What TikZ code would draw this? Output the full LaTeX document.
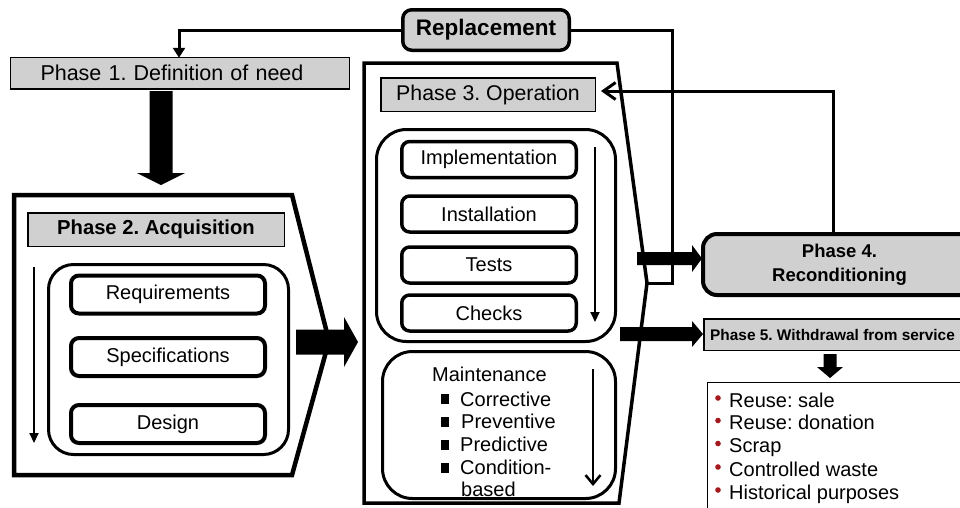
\documentclass[tikz,border=0pt]{standalone}
\usepackage{fontspec}
\setmainfont{Liberation Sans}
\usetikzlibrary{arrows.meta}
\definecolor{boxgray}{RGB}{208,208,208}
\definecolor{bulletred}{RGB}{165,25,30}
\frenchspacing
\begin{document}
\begin{tikzpicture}[x=1pt,y=-1pt,
  hdr/.style={draw, line width=1.5pt, fill=boxgray, inner sep=0pt},
  item2/.style={draw, line width=4pt, rounded corners=8pt, minimum width=194pt, minimum height=38pt, inner sep=0pt, font=\fontsize{20}{24}\selectfont},
  item3/.style={draw, line width=3.5pt, rounded corners=8pt, minimum width=174.5pt, minimum height=36pt, inner sep=0pt, font=\fontsize{20}{24}\selectfont},
  panel/.style={draw, line width=3pt, rounded corners=#1},
  conn/.style={line width=3pt, line join=miter},
  thinarrow/.style={line width=2pt, -{Triangle[length=10pt,width=9pt]}},
  txt/.style={anchor=base west, inner sep=0pt, font=\fontsize{20}{24}\selectfont}
]
\clip (0,0) rectangle (960,507);

% ---------- Phase 2 ----------
\coordinate (p2tip) at (329,341);
\draw[line width=4.5pt, line join=miter] (14,195) -- (292,195) -- (p2tip) -- (292,475) -- (14,475) -- cycle;
\node[hdr, minimum width=256.5pt, minimum height=33.5pt, font=\bfseries\fontsize{20.2}{24}\selectfont] (p2h) at (156,229.5) {Phase 2. Acquisition};
\draw[panel=25pt] (48.5,264.5) rectangle (288.5,454.5);
\node[item2] (req) at (168,294.5) {Requirements};
\node[item2] (spec) at (168,357) {Specifications};
\node[item2] (des) at (168,424) {Design};
\draw[thinarrow] (34,267) -- (34,443);

% ---------- Phase 3 ----------
\coordinate (p3tip) at (647,283);
\draw[line width=3.5pt, line join=miter] (364,63) -- (617,63) -- (p3tip) -- (619,503) -- (364,503) -- cycle;
\node[hdr, minimum width=214.5pt, minimum height=33.5pt, font=\fontsize{21.3}{25}\selectfont] (p3h) at (488,94.5) {Phase 3. Operation};
\draw[panel=30pt] (376.5,129.5) rectangle (615.5,341.5);
\node[item3] (impl) at (489,159.5) {Implementation};
\node[item3] (inst) at (489,214) {Installation};
\node[item3] (tests) at (489,265) {Tests};
\node[item3] (chk) at (489,313) {Checks};
\draw[thinarrow] (595,147) -- (595,322);
\draw[panel=30pt] (382.5,351.5) rectangle (615.5,498.5);
\node[txt] (mt) at (432,381.5) {Maintenance};
\node[txt] (m1) at (460,406) {Corrective};
\node[txt] (m2) at (461,428.5) {Preventive};
\node[txt] (m3) at (460,451.5) {Predictive};
\node[txt] (m4) at (460,474.5) {Condition-};
\node[txt] (m5) at (461,496) {based};
\foreach \b in {406,428.5,451.5,474.5}{\fill (441,\b-12) rectangle (449,\b-2);}
\draw[line width=2.5pt, -{Straight Barb[length=9pt,width=15pt]}] (593,369) -- (593,486);

% ---------- Phase 1 and Replacement ----------
\node[hdr, anchor=north west, minimum height=31.5pt, text width=279pt, inner xsep=30pt, align=left, font=\fontsize{21.5}{26}\selectfont] (p1) at (9.75,56.75) {Phase 1. Definition of need};
\node[draw, line width=3.5pt, rounded corners=9pt, fill=boxgray, minimum width=166.5pt, minimum height=40.5pt, inner sep=0pt, font=\bfseries\fontsize{22.5}{27}\selectfont] (repl) at (486,30) {Replacement};
\coordinate (r1) at (179,30);
\coordinate (r2) at (672,30);
\coordinate (r3) at (672,283);
\draw[conn] (p3tip) -- (r3) -- (r2) -- (repl.east);
\draw[conn, -{Triangle[length=10pt,width=12pt]}] (repl.west) -- (r1) -- ([yshift=-1pt]r1 |- p1.north);

% ---------- Phase 4 ----------
\node[draw, line width=4pt, rounded corners=14pt, fill=boxgray, minimum width=273pt, minimum height=61pt, inner sep=0pt, align=center, font=\bfseries\fontsize{18.5}{24}\selectfont] (p4) at (839.5,264.5) {Phase 4.\\Reconditioning};
\coordinate (r4) at (833,91);
\draw[conn, -{Straight Barb[length=12pt,width=17pt]}] (p4.north -| r4) -- (r4) -- ([xshift=5pt]p3h.east |- r4);

% ---------- Phase 5 ----------
\draw[line width=1.5pt, fill=boxgray] (703.75,318.75) rectangle (985,350.25);
\node[anchor=west, inner sep=0pt, font=\bfseries\fontsize{15.4}{20}\selectfont] (p5) at (710,335) {Phase 5. Withdrawal from service};
\node[draw, line width=1.5pt, anchor=north west, minimum width=300pt, minimum height=160pt] (lst) at (706.75,381.75) {};
\node[txt] (l1) at (729,407) {Reuse: sale};
\node[txt] (l2) at (729,429.5) {Reuse: donation};
\node[txt] (l3) at (729,452.5) {Scrap};
\node[txt] (l4) at (729,476) {Controlled waste};
\node[txt] (l5) at (729,499) {Historical purposes};
\foreach \b in {407,429.5,452.5,476,499}{\fill[bulletred] (718,\b-9) circle (2.8pt);}

% ---------- big arrows ----------
\fill (149.5,91) -- (172.5,91) -- (172.5,173) -- (185,173) -- (161,185) -- (137,173) -- (149.5,173) -- cycle;
\fill (296,329.5) -- (344,329.5) -- (344,317) -- (358,342) -- (344,367) -- (344,354.5) -- (296,354.5) -- cycle;
\fill (637,252) -- (692,252) -- (692,245) -- (702,258.5) -- (692,272) -- (692,265) -- (637,265) -- cycle;
\fill (620,327) -- (692,327) -- (692,321) -- (703,334) -- (692,347) -- (692,341) -- (620,341) -- cycle;
\fill (823.5,354) -- (836.5,354) -- (836.5,367) -- (843,367) -- (830,378) -- (817,367) -- (823.5,367) -- cycle;
\end{tikzpicture}
\end{document}
